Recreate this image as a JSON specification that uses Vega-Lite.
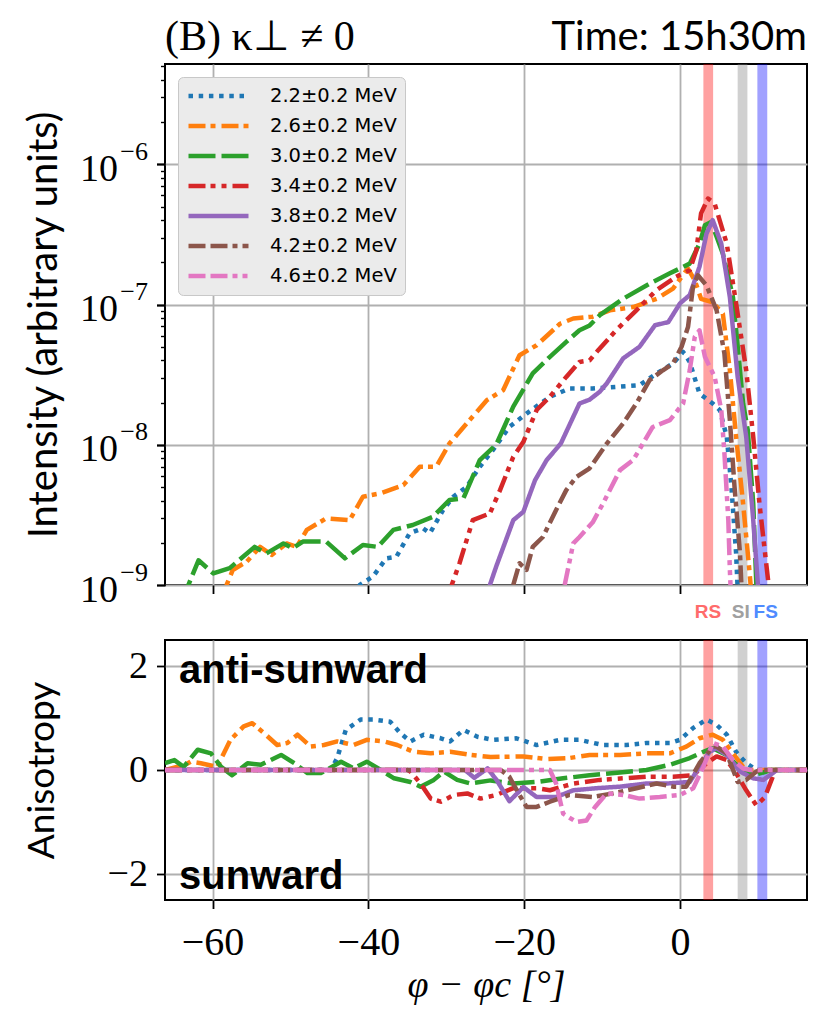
{
  "$schema": "https://vega.github.io/schema/vega-lite/v6.json",
  "background": "white",
  "autosize": {"type": "none"},
  "padding": {"left": 165, "top": 64, "right": 665, "bottom": 966},
  "bounds": "flush",
  "spacing": 55,
  "config": {
    "font": "Lato",
    "view": {"stroke": "black", "strokeWidth": 2},
    "axis": {"domain": false, "grid": true, "gridColor": "#b0b0b0", "gridWidth": 1.8, "tickColor": "black", "tickWidth": 1.8, "tickSize": 8.5, "labelFont": "Liberation Serif", "labelFontSize": 38, "labelColor": "black", "labelPadding": 9, "titleFont": "Lato", "titleFontSize": 37, "titleFontWeight": "normal", "titleColor": "black", "labelFlush": false, "labelOverlap": false},
    "legend": {"labelFont": "DejaVu Sans", "labelFontSize": 19.5, "labelColor": "black", "labelLimit": 400}
  },
  "datasets": {
    "bands": [
      {"s": "RS", "x": 3.0, "x2": 4.25, "c": 3.6},
      {"s": "SI", "x": 7.4, "x2": 8.65, "c": 7.8},
      {"s": "FS", "x": 9.93, "x2": 11.2, "c": 11.0}
    ],
    "notes": [
      {"t": "(B) κ⊥ ≠ 0"}, {"t": "Time: 15h30m"}, {"t": "anti-sunward"}, {"t": "sunward"}
    ],
    "intensity": [
      {"e": "2.2±0.2 MeV", "x": -41.6, "v": 7e-10}, {"e": "2.2±0.2 MeV", "x": -41.1, "v": 1.0e-9}, {"e": "2.2±0.2 MeV", "x": -39.4, "v": 1.15e-9}, {"e": "2.2±0.2 MeV", "x": -37.7, "v": 1.55e-9}, {"e": "2.2±0.2 MeV", "x": -36.4, "v": 1.59e-9}, {"e": "2.2±0.2 MeV", "x": -34.7, "v": 2.34e-9}, {"e": "2.2±0.2 MeV", "x": -33.0, "v": 2.54e-9}, {"e": "2.2±0.2 MeV", "x": -32.1, "v": 2.34e-9}, {"e": "2.2±0.2 MeV", "x": -30.4, "v": 3.43e-9}, {"e": "2.2±0.2 MeV", "x": -29.1, "v": 4.26e-9}, {"e": "2.2±0.2 MeV", "x": -27.4, "v": 5.0e-9}, {"e": "2.2±0.2 MeV", "x": -25.7, "v": 6.97e-9}, {"e": "2.2±0.2 MeV", "x": -24.0, "v": 9.2e-9}, {"e": "2.2±0.2 MeV", "x": -21.9, "v": 1.34e-8}, {"e": "2.2±0.2 MeV", "x": -19.7, "v": 1.67e-8}, {"e": "2.2±0.2 MeV", "x": -16.7, "v": 2.2e-8}, {"e": "2.2±0.2 MeV", "x": -14.2, "v": 2.52e-8}, {"e": "2.2±0.2 MeV", "x": -11.2, "v": 2.52e-8}, {"e": "2.2±0.2 MeV", "x": -8.2, "v": 2.59e-8}, {"e": "2.2±0.2 MeV", "x": -5.2, "v": 2.66e-8}, {"e": "2.2±0.2 MeV", "x": -3.0, "v": 3.23e-8}, {"e": "2.2±0.2 MeV", "x": -0.9, "v": 3.8e-8}, {"e": "2.2±0.2 MeV", "x": 0.4, "v": 4.6e-8}, {"e": "2.2±0.2 MeV", "x": 1.25, "v": 3.9e-8}, {"e": "2.2±0.2 MeV", "x": 2.5, "v": 2.32e-8}, {"e": "2.2±0.2 MeV", "x": 4.2, "v": 1.97e-8}, {"e": "2.2±0.2 MeV", "x": 5.1, "v": 1.77e-8}, {"e": "2.2±0.2 MeV", "x": 6.0, "v": 1.14e-8}, {"e": "2.2±0.2 MeV", "x": 6.6, "v": 5.0e-9}, {"e": "2.2±0.2 MeV", "x": 7.2, "v": 1.68e-9}, {"e": "2.2±0.2 MeV", "x": 7.5, "v": 7e-10},
      {"e": "2.6±0.2 MeV", "x": -58.8, "v": 7e-10}, {"e": "2.6±0.2 MeV", "x": -58.2, "v": 1.0e-9}, {"e": "2.6±0.2 MeV", "x": -57.4, "v": 1.28e-9}, {"e": "2.6±0.2 MeV", "x": -55.6, "v": 1.47e-9}, {"e": "2.6±0.2 MeV", "x": -53.9, "v": 1.87e-9}, {"e": "2.6±0.2 MeV", "x": -52.4, "v": 1.64e-9}, {"e": "2.6±0.2 MeV", "x": -50.5, "v": 1.98e-9}, {"e": "2.6±0.2 MeV", "x": -49.2, "v": 1.87e-9}, {"e": "2.6±0.2 MeV", "x": -47.9, "v": 2.47e-9}, {"e": "2.6±0.2 MeV", "x": -45.4, "v": 2.99e-9}, {"e": "2.6±0.2 MeV", "x": -42.4, "v": 2.9e-9}, {"e": "2.6±0.2 MeV", "x": -40.7, "v": 4.26e-9}, {"e": "2.6±0.2 MeV", "x": -38.5, "v": 4.5e-9}, {"e": "2.6±0.2 MeV", "x": -35.5, "v": 5.16e-9}, {"e": "2.6±0.2 MeV", "x": -33.4, "v": 6.97e-9}, {"e": "2.6±0.2 MeV", "x": -31.3, "v": 6.97e-9}, {"e": "2.6±0.2 MeV", "x": -29.6, "v": 1.02e-8}, {"e": "2.6±0.2 MeV", "x": -27.0, "v": 1.5e-8}, {"e": "2.6±0.2 MeV", "x": -24.8, "v": 2.08e-8}, {"e": "2.6±0.2 MeV", "x": -22.7, "v": 2.45e-8}, {"e": "2.6±0.2 MeV", "x": -20.6, "v": 4.35e-8}, {"e": "2.6±0.2 MeV", "x": -18.4, "v": 5.13e-8}, {"e": "2.6±0.2 MeV", "x": -15.4, "v": 7.3e-8}, {"e": "2.6±0.2 MeV", "x": -13.7, "v": 7.96e-8}, {"e": "2.6±0.2 MeV", "x": -11.2, "v": 8.2e-8}, {"e": "2.6±0.2 MeV", "x": -9.0, "v": 9.1e-8}, {"e": "2.6±0.2 MeV", "x": -6.0, "v": 9.6e-8}, {"e": "2.6±0.2 MeV", "x": -3.0, "v": 1.10e-7}, {"e": "2.6±0.2 MeV", "x": -0.9, "v": 1.30e-7}, {"e": "2.6±0.2 MeV", "x": 1.0, "v": 1.81e-7}, {"e": "2.6±0.2 MeV", "x": 1.9, "v": 1.49e-7}, {"e": "2.6±0.2 MeV", "x": 2.7, "v": 1.10e-7}, {"e": "2.6±0.2 MeV", "x": 4.2, "v": 1.04e-7}, {"e": "2.6±0.2 MeV", "x": 5.5, "v": 8.6e-8}, {"e": "2.6±0.2 MeV", "x": 6.4, "v": 3.4e-8}, {"e": "2.6±0.2 MeV", "x": 7.2, "v": 1.14e-8}, {"e": "2.6±0.2 MeV", "x": 8.1, "v": 3.8e-9}, {"e": "2.6±0.2 MeV", "x": 8.9, "v": 1.28e-9}, {"e": "2.6±0.2 MeV", "x": 9.3, "v": 7e-10},
      {"e": "3.0±0.2 MeV", "x": -63.6, "v": 7e-10}, {"e": "3.0±0.2 MeV", "x": -63.1, "v": 1.0e-9}, {"e": "3.0±0.2 MeV", "x": -61.8, "v": 1.5e-9}, {"e": "3.0±0.2 MeV", "x": -59.9, "v": 1.21e-9}, {"e": "3.0±0.2 MeV", "x": -57.8, "v": 1.32e-9}, {"e": "3.0±0.2 MeV", "x": -54.6, "v": 1.87e-9}, {"e": "3.0±0.2 MeV", "x": -53.1, "v": 1.68e-9}, {"e": "3.0±0.2 MeV", "x": -50.9, "v": 1.98e-9}, {"e": "3.0±0.2 MeV", "x": -49.7, "v": 1.83e-9}, {"e": "3.0±0.2 MeV", "x": -48.4, "v": 2.04e-9}, {"e": "3.0±0.2 MeV", "x": -45.4, "v": 2.04e-9}, {"e": "3.0±0.2 MeV", "x": -43.0, "v": 1.55e-9}, {"e": "3.0±0.2 MeV", "x": -40.7, "v": 1.93e-9}, {"e": "3.0±0.2 MeV", "x": -38.8, "v": 1.87e-9}, {"e": "3.0±0.2 MeV", "x": -36.8, "v": 2.47e-9}, {"e": "3.0±0.2 MeV", "x": -34.3, "v": 2.68e-9}, {"e": "3.0±0.2 MeV", "x": -31.7, "v": 3.07e-9}, {"e": "3.0±0.2 MeV", "x": -29.6, "v": 4.04e-9}, {"e": "3.0±0.2 MeV", "x": -27.8, "v": 4.15e-9}, {"e": "3.0±0.2 MeV", "x": -25.7, "v": 7.78e-9}, {"e": "3.0±0.2 MeV", "x": -23.6, "v": 1.0e-8}, {"e": "3.0±0.2 MeV", "x": -21.4, "v": 1.87e-8}, {"e": "3.0±0.2 MeV", "x": -18.9, "v": 3.23e-8}, {"e": "3.0±0.2 MeV", "x": -16.7, "v": 4.24e-8}, {"e": "3.0±0.2 MeV", "x": -14.6, "v": 5.42e-8}, {"e": "3.0±0.2 MeV", "x": -12.9, "v": 6.56e-8}, {"e": "3.0±0.2 MeV", "x": -11.6, "v": 7.1e-8}, {"e": "3.0±0.2 MeV", "x": -10.3, "v": 8.4e-8}, {"e": "3.0±0.2 MeV", "x": -7.3, "v": 1.10e-7}, {"e": "3.0±0.2 MeV", "x": -3.9, "v": 1.41e-7}, {"e": "3.0±0.2 MeV", "x": -1.3, "v": 1.67e-7}, {"e": "3.0±0.2 MeV", "x": 1.25, "v": 1.96e-7}, {"e": "3.0±0.2 MeV", "x": 2.5, "v": 2.72e-7}, {"e": "3.0±0.2 MeV", "x": 3.2, "v": 3.68e-7}, {"e": "3.0±0.2 MeV", "x": 4.0, "v": 3.89e-7}, {"e": "3.0±0.2 MeV", "x": 5.5, "v": 2.31e-7}, {"e": "3.0±0.2 MeV", "x": 6.8, "v": 1.13e-7}, {"e": "3.0±0.2 MeV", "x": 8.1, "v": 1.97e-8}, {"e": "3.0±0.2 MeV", "x": 8.7, "v": 1.27e-8}, {"e": "3.0±0.2 MeV", "x": 9.4, "v": 3.8e-9}, {"e": "3.0±0.2 MeV", "x": 9.8, "v": 1.0e-9}, {"e": "3.0±0.2 MeV", "x": 10.0, "v": 7e-10},
      {"e": "3.4±0.2 MeV", "x": -29.8, "v": 7e-10}, {"e": "3.4±0.2 MeV", "x": -29.3, "v": 1.0e-9}, {"e": "3.4±0.2 MeV", "x": -28.3, "v": 1.43e-9}, {"e": "3.4±0.2 MeV", "x": -26.6, "v": 2.9e-9}, {"e": "3.4±0.2 MeV", "x": -24.4, "v": 3.24e-9}, {"e": "3.4±0.2 MeV", "x": -23.1, "v": 4.75e-9}, {"e": "3.4±0.2 MeV", "x": -21.4, "v": 8.2e-9}, {"e": "3.4±0.2 MeV", "x": -20.1, "v": 1.05e-8}, {"e": "3.4±0.2 MeV", "x": -18.4, "v": 1.77e-8}, {"e": "3.4±0.2 MeV", "x": -16.7, "v": 2.2e-8}, {"e": "3.4±0.2 MeV", "x": -14.6, "v": 3.05e-8}, {"e": "3.4±0.2 MeV", "x": -12.9, "v": 3.9e-8}, {"e": "3.4±0.2 MeV", "x": -11.6, "v": 4.0e-8}, {"e": "3.4±0.2 MeV", "x": -10.5, "v": 4.73e-8}, {"e": "3.4±0.2 MeV", "x": -8.2, "v": 6.56e-8}, {"e": "3.4±0.2 MeV", "x": -5.6, "v": 9.1e-8}, {"e": "3.4±0.2 MeV", "x": -3.0, "v": 1.27e-7}, {"e": "3.4±0.2 MeV", "x": -0.5, "v": 1.58e-7}, {"e": "3.4±0.2 MeV", "x": 1.25, "v": 1.76e-7}, {"e": "3.4±0.2 MeV", "x": 2.1, "v": 2.44e-7}, {"e": "3.4±0.2 MeV", "x": 2.7, "v": 4.47e-7}, {"e": "3.4±0.2 MeV", "x": 3.6, "v": 5.71e-7}, {"e": "3.4±0.2 MeV", "x": 4.45, "v": 5.25e-7}, {"e": "3.4±0.2 MeV", "x": 6.0, "v": 2.72e-7}, {"e": "3.4±0.2 MeV", "x": 7.2, "v": 1.02e-7}, {"e": "3.4±0.2 MeV", "x": 8.5, "v": 3.4e-8}, {"e": "3.4±0.2 MeV", "x": 9.4, "v": 1.14e-8}, {"e": "3.4±0.2 MeV", "x": 10.2, "v": 3.8e-9}, {"e": "3.4±0.2 MeV", "x": 11.3, "v": 1.09e-9}, {"e": "3.4±0.2 MeV", "x": 11.6, "v": 7e-10},
      {"e": "3.8±0.2 MeV", "x": -24.8, "v": 7e-10}, {"e": "3.8±0.2 MeV", "x": -24.4, "v": 1.0e-9}, {"e": "3.8±0.2 MeV", "x": -23.6, "v": 1.35e-9}, {"e": "3.8±0.2 MeV", "x": -21.4, "v": 2.9e-9}, {"e": "3.8±0.2 MeV", "x": -20.1, "v": 3.33e-9}, {"e": "3.8±0.2 MeV", "x": -18.6, "v": 5.6e-9}, {"e": "3.8±0.2 MeV", "x": -17.1, "v": 7.8e-9}, {"e": "3.8±0.2 MeV", "x": -15.3, "v": 1.02e-8}, {"e": "3.8±0.2 MeV", "x": -12.9, "v": 1.97e-8}, {"e": "3.8±0.2 MeV", "x": -11.6, "v": 2.1e-8}, {"e": "3.8±0.2 MeV", "x": -10.3, "v": 2.39e-8}, {"e": "3.8±0.2 MeV", "x": -9.4, "v": 2.74e-8}, {"e": "3.8±0.2 MeV", "x": -7.3, "v": 4.13e-8}, {"e": "3.8±0.2 MeV", "x": -5.2, "v": 5.0e-8}, {"e": "3.8±0.2 MeV", "x": -3.2, "v": 7.13e-8}, {"e": "3.8±0.2 MeV", "x": -1.5, "v": 7.5e-8}, {"e": "3.8±0.2 MeV", "x": 0.0, "v": 1.02e-7}, {"e": "3.8±0.2 MeV", "x": 1.25, "v": 1.17e-7}, {"e": "3.8±0.2 MeV", "x": 2.5, "v": 1.86e-7}, {"e": "3.8±0.2 MeV", "x": 3.4, "v": 3.21e-7}, {"e": "3.8±0.2 MeV", "x": 4.2, "v": 4.0e-7}, {"e": "3.8±0.2 MeV", "x": 5.3, "v": 2.72e-7}, {"e": "3.8±0.2 MeV", "x": 6.4, "v": 1.13e-7}, {"e": "3.8±0.2 MeV", "x": 7.4, "v": 3.05e-8}, {"e": "3.8±0.2 MeV", "x": 8.5, "v": 1.14e-8}, {"e": "3.8±0.2 MeV", "x": 9.4, "v": 2.9e-9}, {"e": "3.8±0.2 MeV", "x": 10.0, "v": 1.0e-9}, {"e": "3.8±0.2 MeV", "x": 10.2, "v": 7e-10},
      {"e": "4.2±0.2 MeV", "x": -21.8, "v": 7e-10}, {"e": "4.2±0.2 MeV", "x": -21.4, "v": 1.0e-9}, {"e": "4.2±0.2 MeV", "x": -20.6, "v": 1.43e-9}, {"e": "4.2±0.2 MeV", "x": -19.7, "v": 1.28e-9}, {"e": "4.2±0.2 MeV", "x": -18.9, "v": 1.87e-9}, {"e": "4.2±0.2 MeV", "x": -17.6, "v": 2.2e-9}, {"e": "4.2±0.2 MeV", "x": -15.9, "v": 3.43e-9}, {"e": "4.2±0.2 MeV", "x": -14.6, "v": 4.75e-9}, {"e": "4.2±0.2 MeV", "x": -13.3, "v": 5.9e-9}, {"e": "4.2±0.2 MeV", "x": -11.6, "v": 6.8e-9}, {"e": "4.2±0.2 MeV", "x": -9.4, "v": 1.02e-8}, {"e": "4.2±0.2 MeV", "x": -7.3, "v": 1.42e-8}, {"e": "4.2±0.2 MeV", "x": -5.6, "v": 1.97e-8}, {"e": "4.2±0.2 MeV", "x": -3.9, "v": 2.89e-8}, {"e": "4.2±0.2 MeV", "x": -2.2, "v": 3.4e-8}, {"e": "4.2±0.2 MeV", "x": -0.9, "v": 3.8e-8}, {"e": "4.2±0.2 MeV", "x": 0.2, "v": 5.0e-8}, {"e": "4.2±0.2 MeV", "x": 1.03, "v": 6.93e-8}, {"e": "4.2±0.2 MeV", "x": 1.67, "v": 1.34e-7}, {"e": "4.2±0.2 MeV", "x": 2.3, "v": 1.62e-7}, {"e": "4.2±0.2 MeV", "x": 3.4, "v": 1.37e-7}, {"e": "4.2±0.2 MeV", "x": 4.7, "v": 9.1e-8}, {"e": "4.2±0.2 MeV", "x": 5.7, "v": 4.48e-8}, {"e": "4.2±0.2 MeV", "x": 6.4, "v": 1.5e-8}, {"e": "4.2±0.2 MeV", "x": 7.0, "v": 5.0e-9}, {"e": "4.2±0.2 MeV", "x": 7.7, "v": 1.68e-9}, {"e": "4.2±0.2 MeV", "x": 8.0, "v": 7e-10},
      {"e": "4.6±0.2 MeV", "x": -15.2, "v": 7e-10}, {"e": "4.6±0.2 MeV", "x": -14.8, "v": 1.0e-9}, {"e": "4.6±0.2 MeV", "x": -13.7, "v": 1.98e-9}, {"e": "4.6±0.2 MeV", "x": -12.9, "v": 2.2e-9}, {"e": "4.6±0.2 MeV", "x": -11.2, "v": 2.8e-9}, {"e": "4.6±0.2 MeV", "x": -9.9, "v": 3.8e-9}, {"e": "4.6±0.2 MeV", "x": -7.7, "v": 6.6e-9}, {"e": "4.6±0.2 MeV", "x": -6.0, "v": 7.8e-9}, {"e": "4.6±0.2 MeV", "x": -3.5, "v": 1.34e-8}, {"e": "4.6±0.2 MeV", "x": -1.3, "v": 1.5e-8}, {"e": "4.6±0.2 MeV", "x": 0.4, "v": 1.97e-8}, {"e": "4.6±0.2 MeV", "x": 1.25, "v": 3.4e-8}, {"e": "4.6±0.2 MeV", "x": 1.9, "v": 5.9e-8}, {"e": "4.6±0.2 MeV", "x": 2.5, "v": 6.56e-8}, {"e": "4.6±0.2 MeV", "x": 3.2, "v": 4.24e-8}, {"e": "4.6±0.2 MeV", "x": 4.45, "v": 3.05e-8}, {"e": "4.6±0.2 MeV", "x": 5.3, "v": 1.77e-8}, {"e": "4.6±0.2 MeV", "x": 5.7, "v": 8.7e-9}, {"e": "4.6±0.2 MeV", "x": 6.2, "v": 2.9e-9}, {"e": "4.6±0.2 MeV", "x": 6.4, "v": 1.28e-9}, {"e": "4.6±0.2 MeV", "x": 6.6, "v": 7e-10}
    ],
    "aniso": [
      {"e": "2.2±0.2 MeV", "x": -66.1, "a": 0}, {"e": "2.2±0.2 MeV", "x": -44.8, "a": 0}, {"e": "2.2±0.2 MeV", "x": -44.0, "a": 0.23}, {"e": "2.2±0.2 MeV", "x": -42.9, "a": 0.77}, {"e": "2.2±0.2 MeV", "x": -41.0, "a": 0.97}, {"e": "2.2±0.2 MeV", "x": -39.3, "a": 0.97}, {"e": "2.2±0.2 MeV", "x": -37.2, "a": 0.93}, {"e": "2.2±0.2 MeV", "x": -35.9, "a": 0.71}, {"e": "2.2±0.2 MeV", "x": -34.6, "a": 0.55}, {"e": "2.2±0.2 MeV", "x": -32.9, "a": 0.68}, {"e": "2.2±0.2 MeV", "x": -30.7, "a": 0.61}, {"e": "2.2±0.2 MeV", "x": -29.5, "a": 0.55}, {"e": "2.2±0.2 MeV", "x": -27.8, "a": 0.77}, {"e": "2.2±0.2 MeV", "x": -26.0, "a": 0.64}, {"e": "2.2±0.2 MeV", "x": -24.0, "a": 0.58}, {"e": "2.2±0.2 MeV", "x": -21.0, "a": 0.61}, {"e": "2.2±0.2 MeV", "x": -18.4, "a": 0.48}, {"e": "2.2±0.2 MeV", "x": -15.4, "a": 0.58}, {"e": "2.2±0.2 MeV", "x": -12.9, "a": 0.58}, {"e": "2.2±0.2 MeV", "x": -9.9, "a": 0.48}, {"e": "2.2±0.2 MeV", "x": -6.9, "a": 0.48}, {"e": "2.2±0.2 MeV", "x": -4.3, "a": 0.52}, {"e": "2.2±0.2 MeV", "x": -1.3, "a": 0.52}, {"e": "2.2±0.2 MeV", "x": 0.0, "a": 0.58}, {"e": "2.2±0.2 MeV", "x": 1.7, "a": 0.81}, {"e": "2.2±0.2 MeV", "x": 3.4, "a": 0.97}, {"e": "2.2±0.2 MeV", "x": 4.7, "a": 0.87}, {"e": "2.2±0.2 MeV", "x": 6.0, "a": 0.68}, {"e": "2.2±0.2 MeV", "x": 7.2, "a": 0.35}, {"e": "2.2±0.2 MeV", "x": 8.5, "a": 0.13}, {"e": "2.2±0.2 MeV", "x": 9.8, "a": 0}, {"e": "2.2±0.2 MeV", "x": 16.3, "a": 0},
      {"e": "2.6±0.2 MeV", "x": -66.1, "a": 0}, {"e": "2.6±0.2 MeV", "x": -63.5, "a": 0.1}, {"e": "2.6±0.2 MeV", "x": -62.8, "a": 0.16}, {"e": "2.6±0.2 MeV", "x": -61.5, "a": 0.13}, {"e": "2.6±0.2 MeV", "x": -59.4, "a": 0.06}, {"e": "2.6±0.2 MeV", "x": -57.7, "a": 0.58}, {"e": "2.6±0.2 MeV", "x": -56.0, "a": 0.84}, {"e": "2.6±0.2 MeV", "x": -54.9, "a": 0.9}, {"e": "2.6±0.2 MeV", "x": -53.4, "a": 0.71}, {"e": "2.6±0.2 MeV", "x": -51.7, "a": 0.48}, {"e": "2.6±0.2 MeV", "x": -50.4, "a": 0.52}, {"e": "2.6±0.2 MeV", "x": -49.1, "a": 0.68}, {"e": "2.6±0.2 MeV", "x": -47.4, "a": 0.45}, {"e": "2.6±0.2 MeV", "x": -45.7, "a": 0.48}, {"e": "2.6±0.2 MeV", "x": -44.0, "a": 0.55}, {"e": "2.6±0.2 MeV", "x": -41.9, "a": 0.48}, {"e": "2.6±0.2 MeV", "x": -40.2, "a": 0.58}, {"e": "2.6±0.2 MeV", "x": -38.0, "a": 0.55}, {"e": "2.6±0.2 MeV", "x": -36.3, "a": 0.48}, {"e": "2.6±0.2 MeV", "x": -34.2, "a": 0.35}, {"e": "2.6±0.2 MeV", "x": -32.0, "a": 0.32}, {"e": "2.6±0.2 MeV", "x": -29.5, "a": 0.35}, {"e": "2.6±0.2 MeV", "x": -26.9, "a": 0.29}, {"e": "2.6±0.2 MeV", "x": -24.3, "a": 0.25}, {"e": "2.6±0.2 MeV", "x": -20.1, "a": 0.26}, {"e": "2.6±0.2 MeV", "x": -17.1, "a": 0.21}, {"e": "2.6±0.2 MeV", "x": -14.2, "a": 0.23}, {"e": "2.6±0.2 MeV", "x": -11.6, "a": 0.29}, {"e": "2.6±0.2 MeV", "x": -7.7, "a": 0.29}, {"e": "2.6±0.2 MeV", "x": -4.3, "a": 0.32}, {"e": "2.6±0.2 MeV", "x": -1.3, "a": 0.32}, {"e": "2.6±0.2 MeV", "x": 0.8, "a": 0.45}, {"e": "2.6±0.2 MeV", "x": 2.5, "a": 0.61}, {"e": "2.6±0.2 MeV", "x": 4.2, "a": 0.68}, {"e": "2.6±0.2 MeV", "x": 5.5, "a": 0.58}, {"e": "2.6±0.2 MeV", "x": 6.8, "a": 0.32}, {"e": "2.6±0.2 MeV", "x": 8.1, "a": 0.06}, {"e": "2.6±0.2 MeV", "x": 9.0, "a": 0}, {"e": "2.6±0.2 MeV", "x": 16.3, "a": 0},
      {"e": "3.0±0.2 MeV", "x": -66.1, "a": 0.13}, {"e": "3.0±0.2 MeV", "x": -64.9, "a": 0.19}, {"e": "3.0±0.2 MeV", "x": -63.7, "a": 0.06}, {"e": "3.0±0.2 MeV", "x": -61.9, "a": 0.39}, {"e": "3.0±0.2 MeV", "x": -60.2, "a": 0.32}, {"e": "3.0±0.2 MeV", "x": -58.9, "a": 0.06}, {"e": "3.0±0.2 MeV", "x": -57.5, "a": -0.1}, {"e": "3.0±0.2 MeV", "x": -55.5, "a": 0.13}, {"e": "3.0±0.2 MeV", "x": -53.8, "a": 0.1}, {"e": "3.0±0.2 MeV", "x": -51.2, "a": 0.29}, {"e": "3.0±0.2 MeV", "x": -49.5, "a": 0.13}, {"e": "3.0±0.2 MeV", "x": -47.8, "a": -0.06}, {"e": "3.0±0.2 MeV", "x": -46.1, "a": -0.06}, {"e": "3.0±0.2 MeV", "x": -43.5, "a": 0.16}, {"e": "3.0±0.2 MeV", "x": -41.9, "a": 0.03}, {"e": "3.0±0.2 MeV", "x": -40.2, "a": 0.16}, {"e": "3.0±0.2 MeV", "x": -38.4, "a": 0}, {"e": "3.0±0.2 MeV", "x": -36.7, "a": -0.16}, {"e": "3.0±0.2 MeV", "x": -34.6, "a": -0.23}, {"e": "3.0±0.2 MeV", "x": -33.3, "a": -0.32}, {"e": "3.0±0.2 MeV", "x": -31.6, "a": -0.19}, {"e": "3.0±0.2 MeV", "x": -30.3, "a": -0.03}, {"e": "3.0±0.2 MeV", "x": -28.6, "a": -0.19}, {"e": "3.0±0.2 MeV", "x": -26.9, "a": -0.26}, {"e": "3.0±0.2 MeV", "x": -24.3, "a": -0.2}, {"e": "3.0±0.2 MeV", "x": -21.4, "a": -0.26}, {"e": "3.0±0.2 MeV", "x": -18.4, "a": -0.23}, {"e": "3.0±0.2 MeV", "x": -15.0, "a": -0.16}, {"e": "3.0±0.2 MeV", "x": -11.6, "a": -0.1}, {"e": "3.0±0.2 MeV", "x": -7.7, "a": -0.05}, {"e": "3.0±0.2 MeV", "x": -4.3, "a": 0}, {"e": "3.0±0.2 MeV", "x": -1.3, "a": 0.1}, {"e": "3.0±0.2 MeV", "x": 1.25, "a": 0.23}, {"e": "3.0±0.2 MeV", "x": 3.0, "a": 0.35}, {"e": "3.0±0.2 MeV", "x": 4.2, "a": 0.42}, {"e": "3.0±0.2 MeV", "x": 6.0, "a": 0.29}, {"e": "3.0±0.2 MeV", "x": 7.7, "a": 0.03}, {"e": "3.0±0.2 MeV", "x": 9.4, "a": -0.1}, {"e": "3.0±0.2 MeV", "x": 11.1, "a": -0.03}, {"e": "3.0±0.2 MeV", "x": 11.8, "a": 0}, {"e": "3.0±0.2 MeV", "x": 16.3, "a": 0},
      {"e": "3.4±0.2 MeV", "x": -66.1, "a": 0}, {"e": "3.4±0.2 MeV", "x": -35.0, "a": 0}, {"e": "3.4±0.2 MeV", "x": -34.6, "a": -0.03}, {"e": "3.4±0.2 MeV", "x": -33.3, "a": -0.26}, {"e": "3.4±0.2 MeV", "x": -32.0, "a": -0.55}, {"e": "3.4±0.2 MeV", "x": -30.7, "a": -0.61}, {"e": "3.4±0.2 MeV", "x": -29.0, "a": -0.48}, {"e": "3.4±0.2 MeV", "x": -27.3, "a": -0.45}, {"e": "3.4±0.2 MeV", "x": -25.6, "a": -0.55}, {"e": "3.4±0.2 MeV", "x": -23.6, "a": -0.48}, {"e": "3.4±0.2 MeV", "x": -21.4, "a": -0.35}, {"e": "3.4±0.2 MeV", "x": -18.4, "a": -0.35}, {"e": "3.4±0.2 MeV", "x": -16.7, "a": -0.39}, {"e": "3.4±0.2 MeV", "x": -13.7, "a": -0.26}, {"e": "3.4±0.2 MeV", "x": -10.3, "a": -0.19}, {"e": "3.4±0.2 MeV", "x": -7.3, "a": -0.16}, {"e": "3.4±0.2 MeV", "x": -4.3, "a": -0.13}, {"e": "3.4±0.2 MeV", "x": -0.9, "a": -0.13}, {"e": "3.4±0.2 MeV", "x": 1.7, "a": -0.1}, {"e": "3.4±0.2 MeV", "x": 3.4, "a": 0.13}, {"e": "3.4±0.2 MeV", "x": 4.7, "a": 0.26}, {"e": "3.4±0.2 MeV", "x": 6.0, "a": 0.19}, {"e": "3.4±0.2 MeV", "x": 7.2, "a": -0.06}, {"e": "3.4±0.2 MeV", "x": 8.5, "a": -0.39}, {"e": "3.4±0.2 MeV", "x": 9.8, "a": -0.68}, {"e": "3.4±0.2 MeV", "x": 10.9, "a": -0.52}, {"e": "3.4±0.2 MeV", "x": 11.9, "a": -0.13}, {"e": "3.4±0.2 MeV", "x": 12.2, "a": 0}, {"e": "3.4±0.2 MeV", "x": 16.3, "a": 0},
      {"e": "3.8±0.2 MeV", "x": -66.1, "a": 0}, {"e": "3.8±0.2 MeV", "x": -27.6, "a": 0}, {"e": "3.8±0.2 MeV", "x": -26.4, "a": -0.15}, {"e": "3.8±0.2 MeV", "x": -24.7, "a": 0.03}, {"e": "3.8±0.2 MeV", "x": -23.5, "a": -0.2}, {"e": "3.8±0.2 MeV", "x": -21.9, "a": -0.6}, {"e": "3.8±0.2 MeV", "x": -20.1, "a": -0.33}, {"e": "3.8±0.2 MeV", "x": -18.4, "a": -0.52}, {"e": "3.8±0.2 MeV", "x": -15.9, "a": -0.52}, {"e": "3.8±0.2 MeV", "x": -13.7, "a": -0.39}, {"e": "3.8±0.2 MeV", "x": -10.7, "a": -0.35}, {"e": "3.8±0.2 MeV", "x": -7.7, "a": -0.32}, {"e": "3.8±0.2 MeV", "x": -4.3, "a": -0.26}, {"e": "3.8±0.2 MeV", "x": -1.7, "a": -0.26}, {"e": "3.8±0.2 MeV", "x": 1.25, "a": -0.23}, {"e": "3.8±0.2 MeV", "x": 2.5, "a": 0.06}, {"e": "3.8±0.2 MeV", "x": 3.8, "a": 0.35}, {"e": "3.8±0.2 MeV", "x": 4.7, "a": 0.42}, {"e": "3.8±0.2 MeV", "x": 6.0, "a": 0.29}, {"e": "3.8±0.2 MeV", "x": 7.7, "a": -0.03}, {"e": "3.8±0.2 MeV", "x": 9.4, "a": -0.16}, {"e": "3.8±0.2 MeV", "x": 10.7, "a": -0.19}, {"e": "3.8±0.2 MeV", "x": 11.9, "a": -0.06}, {"e": "3.8±0.2 MeV", "x": 12.4, "a": 0}, {"e": "3.8±0.2 MeV", "x": 16.3, "a": 0},
      {"e": "4.2±0.2 MeV", "x": -66.1, "a": 0}, {"e": "4.2±0.2 MeV", "x": -23.0, "a": 0}, {"e": "4.2±0.2 MeV", "x": -21.9, "a": -0.13}, {"e": "4.2±0.2 MeV", "x": -20.6, "a": -0.48}, {"e": "4.2±0.2 MeV", "x": -19.7, "a": -0.71}, {"e": "4.2±0.2 MeV", "x": -18.4, "a": -0.71}, {"e": "4.2±0.2 MeV", "x": -16.7, "a": -0.61}, {"e": "4.2±0.2 MeV", "x": -14.2, "a": -0.48}, {"e": "4.2±0.2 MeV", "x": -11.2, "a": -0.52}, {"e": "4.2±0.2 MeV", "x": -8.6, "a": -0.45}, {"e": "4.2±0.2 MeV", "x": -5.6, "a": -0.35}, {"e": "4.2±0.2 MeV", "x": -3.0, "a": -0.26}, {"e": "4.2±0.2 MeV", "x": -0.9, "a": -0.32}, {"e": "4.2±0.2 MeV", "x": 0.8, "a": -0.32}, {"e": "4.2±0.2 MeV", "x": 2.5, "a": 0.13}, {"e": "4.2±0.2 MeV", "x": 4.2, "a": 0.45}, {"e": "4.2±0.2 MeV", "x": 4.7, "a": 0.45}, {"e": "4.2±0.2 MeV", "x": 6.0, "a": 0.32}, {"e": "4.2±0.2 MeV", "x": 7.4, "a": -0.23}, {"e": "4.2±0.2 MeV", "x": 8.5, "a": -0.19}, {"e": "4.2±0.2 MeV", "x": 9.8, "a": -0.03}, {"e": "4.2±0.2 MeV", "x": 10.3, "a": 0}, {"e": "4.2±0.2 MeV", "x": 16.3, "a": 0},
      {"e": "4.6±0.2 MeV", "x": -66.1, "a": 0}, {"e": "4.6±0.2 MeV", "x": -16.7, "a": 0}, {"e": "4.6±0.2 MeV", "x": -15.9, "a": -0.26}, {"e": "4.6±0.2 MeV", "x": -15.0, "a": -0.84}, {"e": "4.6±0.2 MeV", "x": -13.3, "a": -1.0}, {"e": "4.6±0.2 MeV", "x": -12.0, "a": -0.97}, {"e": "4.6±0.2 MeV", "x": -10.9, "a": -0.71}, {"e": "4.6±0.2 MeV", "x": -9.4, "a": -0.45}, {"e": "4.6±0.2 MeV", "x": -7.3, "a": -0.48}, {"e": "4.6±0.2 MeV", "x": -5.2, "a": -0.55}, {"e": "4.6±0.2 MeV", "x": -2.6, "a": -0.52}, {"e": "4.6±0.2 MeV", "x": 0.0, "a": -0.48}, {"e": "4.6±0.2 MeV", "x": 1.7, "a": -0.35}, {"e": "4.6±0.2 MeV", "x": 3.0, "a": 0.06}, {"e": "4.6±0.2 MeV", "x": 4.2, "a": 0.52}, {"e": "4.6±0.2 MeV", "x": 5.5, "a": 0.45}, {"e": "4.6±0.2 MeV", "x": 6.8, "a": 0.19}, {"e": "4.6±0.2 MeV", "x": 8.1, "a": 0.03}, {"e": "4.6±0.2 MeV", "x": 9.0, "a": 0}, {"e": "4.6±0.2 MeV", "x": 16.3, "a": 0}
    ]
  },
  "resolve": {"legend": {"stroke": "independent", "strokeDash": "independent"}},
  "vconcat": [
    {
      "width": 642,
      "height": 521,
      "layer": [
        {
          "data": {"name": "bands"},
          "mark": {"type": "rect", "fillOpacity": 0.37},
          "encoding": {
            "x": {"field": "x", "type": "quantitative", "scale": {"domain": [-66.1, 16.3], "nice": false, "zero": false}, "axis": {"values": [-60, -40, -20, 0], "labels": false, "title": null}},
            "x2": {"field": "x2"},
            "fill": {"field": "s", "type": "nominal", "scale": {"domain": ["RS", "SI", "FS"], "range": ["red", "gray", "blue"]}, "legend": null}
          }
        },
        {
          "data": {"name": "intensity"},
          "mark": {"type": "line", "clip": true, "strokeWidth": 4.5, "strokeJoin": "round"},
          "encoding": {
            "x": {"field": "x", "type": "quantitative", "scale": {"domain": [-66.1, 16.3], "nice": false, "zero": false}, "axis": {"values": [-60, -40, -20, 0], "labels": false, "title": null}},
            "y": {"field": "v", "type": "quantitative", "scale": {"type": "log", "domain": [1e-9, 5.2e-6], "nice": false}, "axis": {"orient": "left", "values": [1e-9, 1e-8, 1e-7, 1e-6], "labelExpr": "'10'", "labelPadding": 39, "labelOffset": 5, "title": "Intensity (arbitrary units)", "titleFontSize": 40, "titlePadding": 15}},
            "stroke": {"field": "e", "type": "nominal", "scale": {"domain": ["2.2±0.2 MeV", "2.6±0.2 MeV", "3.0±0.2 MeV", "3.4±0.2 MeV", "3.8±0.2 MeV", "4.2±0.2 MeV", "4.6±0.2 MeV"], "range": ["#1f77b4", "#ff7f0e", "#2ca02c", "#d62728", "#9467bd", "#8c564b", "#e377c2"]},
              "legend": {"title": null, "orient": "top-left", "offset": 13, "padding": 8, "fillColor": "#ebebeb", "strokeColor": "#c8c8c8", "cornerRadius": 5, "symbolType": "stroke", "symbolSize": 3600, "symbolStrokeWidth": 4.5, "labelOffset": 19, "clipHeight": 22, "rowPadding": 8}},
            "strokeDash": {"field": "e", "type": "nominal", "scale": {"domain": ["2.2±0.2 MeV", "2.6±0.2 MeV", "3.0±0.2 MeV", "3.4±0.2 MeV", "3.8±0.2 MeV", "4.2±0.2 MeV", "4.6±0.2 MeV"], "range": [[4.5, 5.7], [17, 5, 5, 6], [27, 6], [17, 5, 5, 6, 5, 6], [1, 0], [17, 5, 17, 5, 5, 5], [17, 5, 17, 5, 5, 5, 5, 5]]},
              "legend": {"title": null, "orient": "top-left", "offset": 13, "padding": 8, "fillColor": "#ebebeb", "strokeColor": "#c8c8c8", "cornerRadius": 5, "symbolType": "stroke", "symbolSize": 3600, "symbolStrokeWidth": 4.5, "labelOffset": 19, "clipHeight": 22, "rowPadding": 8}}
          }
        },
        {
          "data": {"name": "notes"},
          "transform": [{"filter": "datum.t == '(B) κ⊥ ≠ 0'"}],
          "mark": {"type": "text", "font": "Liberation Serif", "fontSize": 42, "align": "left", "baseline": "alphabetic", "dy": -14, "fill": "black"},
          "encoding": {
            "x": {"datum": -66.1, "type": "quantitative"},
            "y": {"datum": 5.2e-6, "type": "quantitative", "axis": {"orient": "left", "values": [1e-9, 1e-8, 1e-7, 1e-6], "labelExpr": "datum.value < 5e-9 ? '−9' : datum.value < 5e-8 ? '−8' : datum.value < 5e-7 ? '−7' : '−6'", "labelFontSize": 26, "labelPadding": 9, "labelOffset": -13, "grid": false, "title": null}},
            "text": {"field": "t"}
          }
        },
        {
          "data": {"name": "notes"},
          "transform": [{"filter": "datum.t == 'Time: 15h30m'"}],
          "mark": {"type": "text", "font": "Lato", "fontSize": 40, "align": "right", "baseline": "alphabetic", "dy": -14, "fill": "black"},
          "encoding": {
            "x": {"datum": 16.3, "type": "quantitative"},
            "y": {"datum": 5.2e-6, "type": "quantitative", "axis": {"orient": "left", "values": [2e-9, 3e-9, 4e-9, 5e-9, 6e-9, 7e-9, 8e-9, 9e-9, 2e-8, 3e-8, 4e-8, 5e-8, 6e-8, 7e-8, 8e-8, 9e-8, 2e-7, 3e-7, 4e-7, 5e-7, 6e-7, 7e-7, 8e-7, 9e-7, 2e-6, 3e-6, 4e-6, 5e-6], "labels": false, "grid": false, "title": null, "tickSize": 4.5, "tickWidth": 1.4}},
            "text": {"field": "t"}
          }
        }
      ],
      "resolve": {"axis": {"y": "independent"}}
    },
    {
      "width": 642,
      "height": 260,
      "layer": [
        {
          "data": {"name": "bands"},
          "mark": {"type": "rect", "fillOpacity": 0.37},
          "encoding": {
            "x": {"field": "x", "type": "quantitative", "scale": {"domain": [-66.1, 16.3], "nice": false, "zero": false}, "axis": {"values": [-60, -40, -20, 0], "format": "d", "labelFontSize": 40, "labelPadding": 14, "title": "φ − φc [°]", "titleFont": "Liberation Serif", "titleFontStyle": "italic", "titleFontSize": 38, "titlePadding": 4}},
            "x2": {"field": "x2"},
            "fill": {"field": "s", "type": "nominal", "scale": {"domain": ["RS", "SI", "FS"], "range": ["red", "gray", "blue"]}, "legend": null}
          }
        },
        {
          "data": {"name": "aniso"},
          "mark": {"type": "line", "clip": true, "strokeWidth": 4.5, "strokeJoin": "round"},
          "encoding": {
            "x": {"field": "x", "type": "quantitative", "scale": {"domain": [-66.1, 16.3], "nice": false, "zero": false}, "axis": {"values": [-60, -40, -20, 0], "format": "d", "labelFontSize": 40, "labelPadding": 14, "title": "φ − φc [°]", "titleFont": "Liberation Serif", "titleFontStyle": "italic", "titleFontSize": 38, "titlePadding": 4}},
            "y": {"field": "a", "type": "quantitative", "scale": {"domain": [-2.5, 2.5], "nice": false, "zero": false}, "axis": {"values": [-2, 0, 2], "format": "d", "title": "Anisotropy", "titlePadding": 46}},
            "stroke": {"field": "e", "type": "nominal", "legend": null},
            "strokeDash": {"field": "e", "type": "nominal", "legend": null}
          }
        },
        {
          "data": {"name": "bands"},
          "mark": {"type": "text", "font": "Liberation Sans", "fontWeight": "bold", "fontSize": 19, "baseline": "middle", "align": "center"},
          "encoding": {
            "x": {"field": "c", "type": "quantitative"},
            "y": {"datum": 3.04, "type": "quantitative"},
            "text": {"field": "s"},
            "color": {"field": "s", "type": "nominal", "scale": {"domain": ["RS", "SI", "FS"], "range": ["#ff6b6b", "#a0a0a0", "#4f8bff"]}, "legend": null}
          }
        },
        {
          "data": {"name": "notes"},
          "transform": [{"filter": "datum.t == 'anti-sunward'"}],
          "mark": {"type": "text", "font": "Liberation Sans", "fontWeight": "bold", "fontSize": 40, "align": "left", "baseline": "alphabetic", "fill": "black"},
          "encoding": {
            "x": {"datum": -64.3, "type": "quantitative"},
            "y": {"datum": 1.68, "type": "quantitative"},
            "text": {"field": "t"}
          }
        },
        {
          "data": {"name": "notes"},
          "transform": [{"filter": "datum.t == 'sunward'"}],
          "mark": {"type": "text", "font": "Liberation Sans", "fontWeight": "bold", "fontSize": 40, "align": "left", "baseline": "alphabetic", "fill": "black"},
          "encoding": {
            "x": {"datum": -64.3, "type": "quantitative"},
            "y": {"datum": -2.28, "type": "quantitative"},
            "text": {"field": "t"}
          }
        }
      ]
    }
  ]
}
